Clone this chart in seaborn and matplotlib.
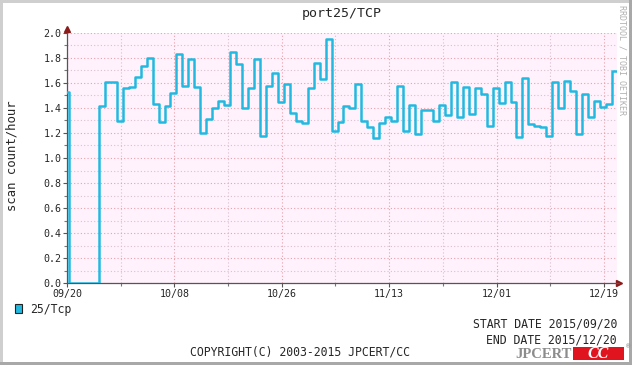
import numpy as np
import pandas as pd
import matplotlib
matplotlib.use("Agg")
import matplotlib.pyplot as plt
from matplotlib.patches import Rectangle
import seaborn as sns

# ---- data (scan count/hour, one value per day) ----
first_partial = [1.53]
daily_values = [0, 0, 0, 0, 0,
    1.42, 1.61, 1.61, 1.30, 1.56, 1.57, 1.645, 1.74, 1.80, 1.43,
    1.29, 1.42, 1.52, 1.83, 1.58, 1.79, 1.57, 1.20, 1.31, 1.40,
    1.456, 1.424, 1.85, 1.755, 1.40, 1.557, 1.795, 1.18, 1.58, 1.68,
    1.45, 1.595, 1.36, 1.30, 1.28, 1.56, 1.76, 1.63, 1.95, 1.216,
    1.29, 1.42, 1.40, 1.595, 1.30, 1.25, 1.16, 1.28, 1.33, 1.30,
    1.58, 1.216, 1.424, 1.195, 1.384, 1.384, 1.296, 1.424, 1.344, 1.61,
    1.33, 1.57, 1.355, 1.56, 1.51, 1.26, 1.557, 1.44, 1.61, 1.45,
    1.168, 1.637, 1.275, 1.26, 1.25, 1.18, 1.61, 1.40, 1.62, 1.54,
    1.195, 1.515, 1.33, 1.456, 1.41, 1.43, 1.70]
tick_labels = ["09/20", "10/08", "10/26", "11/13", "12/01", "12/19"]
series_name = "25/Tcp"
title = "port25/TCP"

# ---- layout ----
W, H = 632, 365
fig = plt.figure(figsize=(W / 100, H / 100), dpi=100)
sns.set_style("white")
plt.rcParams["font.family"] = ["DejaVu Sans Mono", "DejaVu Sans"]

def fx(px):
    return px / W

def fy(py):
    return 1 - py / H

x0, x1, ytop, ybot = 67, 617, 33, 283
ax = fig.add_axes([fx(x0), fy(ybot), fx(x1) - fx(x0), fy(ytop) - fy(ybot)])
ax.set_facecolor("#fff2fc")

offset = 0.35
xs = [0.0] + [offset + i for i in range(len(daily_values))]
ys = first_partial + daily_values
x_end = 92.2
xs = xs + [x_end]
ys = ys + [daily_values[-1]]
df = pd.DataFrame({"day": xs, "value": ys})

sns.lineplot(data=df, x="day", y="value", drawstyle="steps-post",
             color="#22b9e0", lw=1.8, ax=ax, zorder=3)

major_x = [18 * i for i in range(len(tick_labels))]
minor_x = [9 + 18 * i for i in range(len(tick_labels) - 1)]
ax.set_xticks(major_x)
ax.set_xticklabels(tick_labels)
ax.set_xticks(minor_x, minor=True)
ax.set_yticks(np.round(np.arange(0, 2.01, 0.2), 1))
ax.set_yticklabels([f"{v:.1f}" for v in np.arange(0, 2.01, 0.2)])
ax.set_yticks(np.arange(0.1, 2.0, 0.2), minor=True)
ax.set_xlim(0, x_end)
ax.set_ylim(0, 2.0)

ax.grid(which="major", color="#e8a0a8", linestyle=(0, (1, 2)), lw=0.8)
ax.grid(which="minor", color="#d8c0d0", linestyle=(0, (1, 2)), lw=0.8)
ax.set_axisbelow(True)
ax.tick_params(which="major", length=3, width=0.8, color="#555555",
               labelsize=7.2, pad=1, direction="out")
ax.tick_params(which="minor", length=2, width=0.8, color="#777777", direction="out")
ax.tick_params(axis="x", which="both", bottom=True)
ax.tick_params(axis="y", which="both", left=True)
for s in ["top", "right"]:
    ax.spines[s].set_visible(False)
for s in ["left", "bottom"]:
    ax.spines[s].set_color("#555555")
    ax.spines[s].set_linewidth(0.9)
ax.set_xlabel("")
ax.set_ylabel("")

# axis arrows
ax.plot([1.004], [0], marker=">", color="#8b1a1a", markersize=4,
        transform=ax.transAxes, clip_on=False)
ax.plot([0], [1.015], marker="^", color="#8b1a1a", markersize=4,
        transform=ax.transAxes, clip_on=False)
ax.plot([1.0, 1.004], [0, 0], color="#555555", lw=0.9,
        transform=ax.transAxes, clip_on=False)
ax.set_xlim(0, x_end)
ax.set_ylim(0, 2.0)

# texts
fig.text(fx(342), fy(13), title, ha="center", va="center", fontsize=9.5)
fig.text(fx(12), fy(156), "scan count/hour", ha="center", va="center",
         rotation=90, fontsize=8.8)
fig.text(fx(622), fy(5), "RRDTOOL / TOBI OETIKER", ha="center", va="top",
         rotation=270, fontsize=6, color="#b0b0b0")

fig.patches.append(Rectangle((fx(15), fy(313)), fx(7), 9 / H, transform=fig.transFigure,
                             facecolor="#22b9e0", edgecolor="#222222", lw=0.8))
fig.text(fx(30), fy(309), series_name, ha="left", va="center", fontsize=8.3)

fig.text(fx(617), fy(324), "START DATE 2015/09/20", ha="right", va="center", fontsize=8.3)
fig.text(fx(617), fy(340), "END DATE 2015/12/20", ha="right", va="center", fontsize=8.3)
fig.text(fx(300), fy(352), "COPYRIGHT(C) 2003-2015 JPCERT/CC", ha="center",
         va="center", fontsize=8.3)

# logo
fig.text(fx(572), fy(354), "JPCERT", ha="right", va="center", fontsize=10.5,
         color="#8c8c8c", fontweight="bold", family="Liberation Serif")
fig.patches.append(Rectangle((fx(573), fy(360)), fx(51), 13 / H, transform=fig.transFigure,
                             facecolor="#e0141e", edgecolor="none"))
fig.text(fx(598), fy(354), "CC", ha="center", va="center", fontsize=11.5,
         color="white", fontweight="bold", fontstyle="italic", family="Liberation Serif")
fig.text(fx(628), fy(346), "®", ha="center", va="center", fontsize=5, color="#8c8c8c")

# border
for (px, py, pw, ph, c) in [(0, 0, 3, H, "#cfcfcf"), (0, 0, W, 3, "#cfcfcf"),
                            (629, 0, 3, H, "#a8a8a8"), (0, 362, W, 3, "#a8a8a8")]:
    fig.patches.append(Rectangle((fx(px), fy(py + ph)), fx(pw), ph / H,
                                 transform=fig.transFigure, facecolor=c, edgecolor="none"))

fig.savefig("out.png", dpi=100, facecolor="white")
